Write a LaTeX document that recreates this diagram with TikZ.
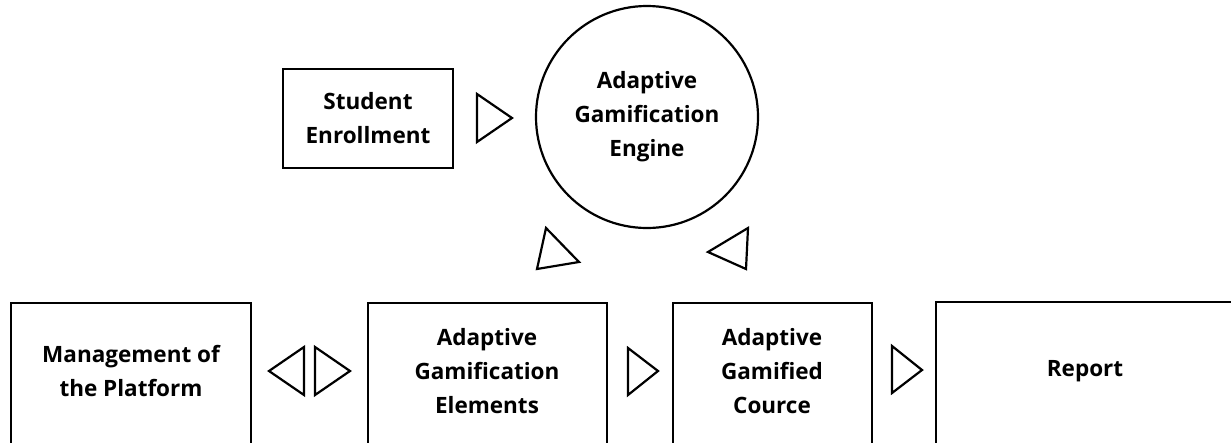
\documentclass[tikz,border=0pt]{standalone}
\usepackage{fontspec}
\setmainfont{Open Sans}
\begin{document}
\begin{tikzpicture}[x=1pt,y=-1pt,
  every node/.style={font=\bfseries\fontsize{22.5}{34}\selectfont, align=center},
  edge/.style={draw=black, line width=2.2pt},
  tri/.style={draw=black, line width=2.2pt, line join=miter}]
\useasboundingbox (0,0) rectangle (1231,442);
\fill[white] (0,0) rectangle (1231,442);
\begin{scope}
\clip (0,0) rectangle (1231,442);
% boxes
\draw[edge] (283,69) rectangle (453,168);
\node (se) at (368,118) {Student\\Enrollment};
\draw[edge] (647,117) circle (111);
\node (age) at (647,117) {Adaptive\\Gamification\\Engine};
\draw[edge] (11,303) rectangle (251,460);
\node (mp) at (131,371) {Management of\\the Platform};
\draw[edge] (368,303) rectangle (607,460);
\node (el) at (487,371) {Adaptive\\Gamification\\Elements};
\draw[edge] (673,303) rectangle (872,460);
\node (gc) at (772,371) {Adaptive\\Gamified\\Cource};
\draw[edge] (936,302) rectangle (1245,460);
\node (rp) at (1085,371) {Report};
% triangles
\draw[tri] (477,94) -- (512,118) -- (477,142) -- cycle;
\draw[tri] (546,228) -- (579,262) -- (537,269) -- cycle;
\draw[tri] (748,228) -- (708,252) -- (746,269) -- cycle;
\draw[tri] (304,347) -- (269,371) -- (304,395) -- cycle;
\draw[tri] (315,347) -- (350,371) -- (315,395) -- cycle;
\draw[tri] (628,348) -- (658,371) -- (628,395) -- cycle;
\draw[tri] (892,346) -- (922,370) -- (892,393) -- cycle;
\end{scope}
\end{tikzpicture}
\end{document}
